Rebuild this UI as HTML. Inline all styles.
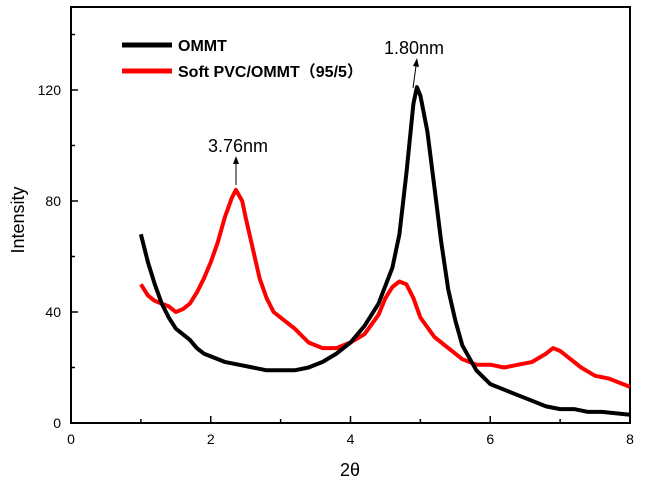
<!DOCTYPE html>
<html><head><meta charset="utf-8"><style>
body{margin:0;background:#fff;}
svg{display:block;font-family:"Liberation Sans",Arial,sans-serif;}
</style></head><body>
<svg id="chart" width="646" height="490">
<g id="axes"></g>
<g id="series"></g>
<g>
<line x1="122" y1="45" x2="172" y2="45" stroke="#000" stroke-width="5"/>
<text x="178" y="51" font-size="16" font-weight="bold">OMMT</text>
<line x1="122" y1="71" x2="172" y2="71" stroke="#f00" stroke-width="5"/>
<text x="178" y="77" font-size="16" font-weight="bold" font-family="Liberation Sans, Noto Sans CJK SC, sans-serif">Soft PVC/OMMT（95/5）</text>
</g>
<text x="238" y="152" font-size="18" text-anchor="middle">3.76nm</text>
<line x1="236" y1="185" x2="236" y2="163" stroke="#000" stroke-width="1"/>
<path d="M233,164 L236,156 L239,164 Z" fill="#000"/>
<text x="414" y="54" font-size="18" text-anchor="middle">1.80nm</text>
<line x1="413" y1="88" x2="416" y2="66" stroke="#000" stroke-width="1"/>
<path d="M413,66 L417,58 L419,67 Z" fill="#000"/>
<text x="350" y="476" font-size="18" text-anchor="middle">2θ</text>
<text transform="translate(24,220) rotate(-90)" font-size="18" text-anchor="middle">Intensity</text>
</svg>
<script>
const xTicks=[0,2,4,6,8];
const yTicks=[0,40,80,120];
const ommtX=[1.0,1.1,1.2,1.3,1.4,1.5,1.6,1.7,1.8,1.9,2.0,2.2,2.4,2.6,2.8,3.0,3.2,3.4,3.6,3.8,4.0,4.2,4.4,4.6,4.7,4.8,4.9,4.95,5.0,5.1,5.2,5.3,5.4,5.5,5.6,5.8,6.0,6.2,6.4,6.6,6.8,7.0,7.2,7.4,7.6,8.0];
const ommtY=[68,58,50,43,38,34,32,30,27,25,24,22,21,20,19,19,19,20,22,25,29,35,43,56,68,90,115,121,118,105,85,65,48,37,28,19,14,12,10,8,6,5,5,4,4,3];
const pvcX=[1.0,1.1,1.2,1.4,1.5,1.6,1.7,1.8,1.9,2.0,2.1,2.2,2.3,2.36,2.45,2.5,2.6,2.7,2.8,2.9,3.0,3.2,3.4,3.6,3.8,4.0,4.2,4.4,4.5,4.6,4.7,4.8,4.9,5.0,5.2,5.4,5.6,5.8,6.0,6.2,6.4,6.6,6.8,6.9,7.0,7.1,7.3,7.5,7.7,8.0];
const pvcY=[50,46,44,42,40,41,43,47,52,58,65,74,81,84,80,74,63,52,45,40,38,34,29,27,27,29,32,39,45,49,51,50,45,38,31,27,23,21,21,20,21,22,25,27,26,24,20,17,16,13];
const X0=71,X1=630,Y0=423,YPX=2.775;
const sx=v=>X0+(v/8)*(X1-X0);
const sy=v=>Y0-v*YPX;
const NS='http://www.w3.org/2000/svg';
const axes=document.getElementById('axes');
function mk(t,a,p){const e=document.createElementNS(NS,t);for(const k in a)e.setAttribute(k,a[k]);p.appendChild(e);return e;}
let e=mk('path',{d:`M${X0},7 L${X0},${Y0} L${X1},${Y0} L${X1},7 Z`,stroke:'#000','stroke-width':2,fill:'none'},axes);


for(let v=0;v<=8;v++){const x=sx(v);mk('line',{x1:x,y1:Y0,x2:x,y2:Y0-(v%2?4:7),stroke:'#000','stroke-width':1.5},axes);}
for(let v=0;v<=140;v+=20){const y=sy(v);mk('line',{x1:X0,y1:y,x2:X0+(v%40?4:7),y2:y,stroke:'#000','stroke-width':1.5},axes);}
xTicks.forEach(v=>{const t=mk('text',{x:sx(v),y:Y0+21,'font-size':14,'text-anchor':'middle'},axes);t.textContent=v;

});
yTicks.forEach(v=>{const t=mk('text',{x:X0-10,y:sy(v)+5,'font-size':14,'text-anchor':'end'},axes);t.textContent=v;

});
const ser=document.getElementById('series');
function line(xs,ys,c){return mk('path',{d:xs.map((x,i)=>(i?'L':'M')+sx(x).toFixed(1)+','+sy(ys[i]).toFixed(1)).join(' '),stroke:c,'stroke-width':4,fill:'none','stroke-linejoin':'round'},ser);}
const l2=line(pvcX,pvcY,'#f00');


const l1=line(ommtX,ommtY,'#000');


</script>
</body></html>
